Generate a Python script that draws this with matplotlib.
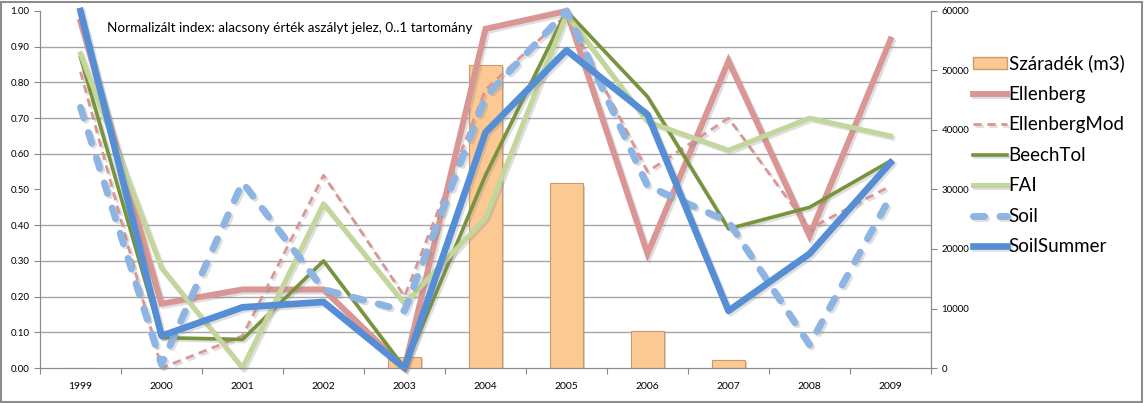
import matplotlib
matplotlib.use("Agg")
import matplotlib.pyplot as plt
import matplotlib.patheffects as pe
from matplotlib.patches import Rectangle, Patch
from matplotlib.ticker import MultipleLocator, FixedLocator, FormatStrFormatter
import numpy as np

plt.rcParams['font.family'] = ['Lato', 'DejaVu Sans']

years = ['1999', '2000', '2001', '2002', '2003', '2004', '2005', '2006', '2007', '2008', '2009']
szaradek = [0, 0, 0, 0, 1900, 51000, 31100, 6300, 1400, 0, 0]
ellenberg = [0.97, 0.18, 0.22, 0.22, 0.00, 0.95, 1.00, 0.32, 0.86, 0.37, 0.92]
ellenberg_mod = [0.83, 0.00, 0.09, 0.54, 0.20, 0.78, 0.99, 0.55, 0.70, 0.39, 0.51]
beech_tol = [0.87, 0.085, 0.08, 0.30, 0.00, 0.54, 1.00, 0.76, 0.39, 0.45, 0.58]
fai = [0.88, 0.28, 0.00, 0.46, 0.18, 0.42, 0.99, 0.69, 0.61, 0.70, 0.65]
soil = [0.73, 0.01, 0.52, 0.22, 0.16, 0.76, 1.00, 0.51, 0.41, 0.065, 0.48]
soil_summer = [1.00, 0.09, 0.17, 0.185, 0.00, 0.66, 0.89, 0.71, 0.16, 0.32, 0.575]

x = np.arange(len(years))

fig = plt.figure(figsize=(11.44, 4.03), dpi=100)
ax = fig.add_axes([40 / 1144, 1 - 368 / 403, (931 - 40) / 1144, (368 - 11) / 403])
ax2 = ax.twinx()

# bars on the primary axes (right-hand scale) so they sit behind the lines
bar_shadow = [pe.SimplePatchShadow(offset=(2, -2), alpha=0.35, shadow_rgbFace='gray'), pe.Normal()]
ax.bar(x, szaradek, width=0.4, color='#FCC993', edgecolor='#C89A70', linewidth=0.8,
       path_effects=bar_shadow, zorder=2)
ax.set_ylim(0, 60000)
ax.set_xlim(-0.5, len(years) - 0.5)
ax.yaxis.tick_right()
ax.yaxis.set_major_locator(MultipleLocator(10000))
ax.yaxis.set_minor_locator(MultipleLocator(6000))
ax.grid(True, which='minor', axis='y', color='#A6A6A6', linewidth=1.0, zorder=0)
ax.grid(False, which='major')
ax.tick_params(axis='y', which='minor', length=0)
ax.tick_params(axis='y', which='major', labelsize=7, colors='#888888', labelcolor='black',
               length=4, direction='out', right=True, left=False)

ax.xaxis.set_major_locator(FixedLocator(np.arange(-0.5, len(years), 1.0)))
ax.xaxis.set_minor_locator(FixedLocator(x))
ax.set_xticklabels([], minor=False)
ax.set_xticklabels(years, minor=True)
ax.tick_params(axis='x', which='major', length=4, colors='#888888', direction='out')
ax.tick_params(axis='x', which='minor', length=0, labelsize=7.5, pad=10)

ax2.yaxis.tick_left()
ax2.yaxis.set_label_position('left')
ax2.set_ylim(0, 1.0)
ax2.yaxis.set_major_locator(MultipleLocator(0.1))
ax2.yaxis.set_major_formatter(FormatStrFormatter('%.2f'))
ax2.tick_params(axis='y', labelsize=7, colors='#888888', labelcolor='black',
                length=4, direction='out', left=True, right=False)

for a in (ax, ax2):
    a.spines['top'].set_visible(False)
    for s in ('left', 'right', 'bottom'):
        a.spines[s].set_color('#8C8C8C')

shadow = [pe.SimpleLineShadow(offset=(1.5, -1.5), alpha=0.25, shadow_color='gray'), pe.Normal()]

ax2.plot(x, ellenberg, color='#D99694', lw=4.3, solid_joinstyle='miter', path_effects=shadow,
         label='Ellenberg', clip_on=False)
ax2.plot(x, ellenberg_mod, color='#D99694', lw=2.0, dashes=(3, 2), path_effects=shadow,
         label='EllenbergMod', clip_on=False)
ax2.plot(x, beech_tol, color='#77933C', lw=2.6, path_effects=shadow,
         label='BeechTol', clip_on=False)
ax2.plot(x, fai, color='#C3D69B', lw=3.6, path_effects=shadow,
         label='FAI', clip_on=False)
ax2.plot(x, soil, color='#8EB4E3', lw=5.0, dashes=(1.6, 2.2), dash_capstyle='round',
         path_effects=shadow, label='Soil', clip_on=False)
ax2.plot(x, soil_summer, color='#558ED5', lw=4.8, path_effects=shadow,
         label='SoilSummer', clip_on=False)

h_lines, l_lines = ax2.get_legend_handles_labels()
bar_handle = Patch(facecolor='#FCC993', edgecolor='#C89A70')
fig.legend([bar_handle] + h_lines, ['Száradék (m3)'] + l_lines,
           loc='upper left', bbox_to_anchor=(965 / 1144, 1 - 47 / 403),
           frameon=False, fontsize=13.5, labelspacing=0.72, handleheight=0.6,
           handlelength=1.85, handletextpad=0.08, borderaxespad=0)

fig.text(107 / 1144, 1 - 28 / 403, 'Normalizált index: alacsony érték aszályt jelez, 0..1 tartomány',
         fontsize=9.7, va='center', ha='left')

fig.patches.append(Rectangle((0.001, 0.002), 0.997, 0.994, transform=fig.transFigure,
                             fill=False, edgecolor='#8C8C8C', linewidth=1.5))

fig.savefig('out.png', dpi=100)
